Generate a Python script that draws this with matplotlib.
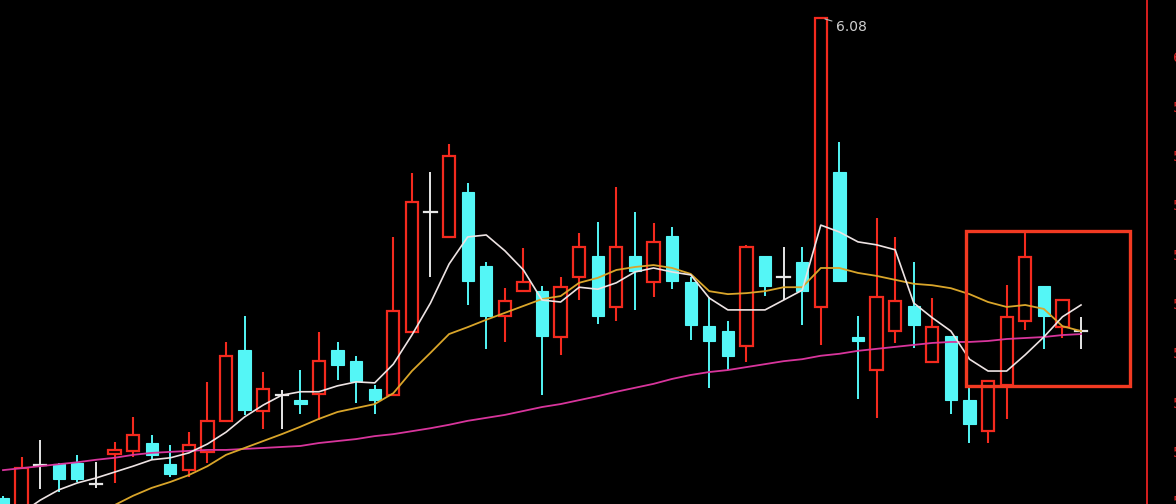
import matplotlib
matplotlib.use('Agg')
import matplotlib.pyplot as plt
from matplotlib.patches import Rectangle

# ---- data (prices) ----
opens = [5.105, 5.061, 5.172, 5.174, 5.176, 5.134, 5.195, 5.201, 5.217, 5.174,
         5.162, 5.199, 5.262, 5.406, 5.282, 5.314, 5.304, 5.316, 5.406, 5.383,
         5.327, 5.314, 5.442, 5.686, 5.635, 5.726, 5.576, 5.475, 5.525, 5.525,
         5.432, 5.554, 5.596, 5.493, 5.596, 5.544, 5.637, 5.544, 5.454, 5.444,
         5.414, 5.596, 5.554, 5.584, 5.493, 5.767, 5.432, 5.365, 5.444, 5.495,
         5.381, 5.434, 5.304, 5.241, 5.335, 5.465, 5.536, 5.452, 5.444]
highs = [5.110, 5.189, 5.223, 5.176, 5.193, 5.178, 5.219, 5.270, 5.233, 5.213,
         5.239, 5.341, 5.422, 5.475, 5.361, 5.325, 5.365, 5.442, 5.422, 5.394,
         5.335, 5.635, 5.765, 5.767, 5.824, 5.744, 5.584, 5.531, 5.613, 5.536,
         5.554, 5.643, 5.665, 5.736, 5.686, 5.663, 5.655, 5.554, 5.513, 5.465,
         5.619, 5.596, 5.615, 5.615, 6.080, 5.828, 5.475, 5.673, 5.635, 5.584,
         5.511, 5.434, 5.329, 5.345, 5.538, 5.645, 5.536, 5.507, 5.473]
lows = [5.041, 5.051, 5.124, 5.118, 5.138, 5.126, 5.136, 5.189, 5.183, 5.148,
        5.148, 5.176, 5.262, 5.274, 5.245, 5.245, 5.276, 5.264, 5.345, 5.298,
        5.276, 5.314, 5.442, 5.554, 5.635, 5.497, 5.408, 5.422, 5.525, 5.314,
        5.396, 5.507, 5.458, 5.465, 5.487, 5.513, 5.529, 5.426, 5.329, 5.365,
        5.381, 5.515, 5.507, 5.456, 5.416, 5.546, 5.306, 5.268, 5.420, 5.410,
        5.381, 5.276, 5.217, 5.217, 5.266, 5.446, 5.408, 5.430, 5.408]
closes = [5.051, 5.166, 5.172, 5.144, 5.144, 5.134, 5.203, 5.233, 5.193, 5.154,
          5.213, 5.262, 5.394, 5.284, 5.327, 5.314, 5.296, 5.383, 5.375, 5.343,
          5.304, 5.485, 5.706, 5.686, 5.799, 5.546, 5.475, 5.505, 5.544, 5.434,
          5.533, 5.615, 5.475, 5.615, 5.566, 5.625, 5.546, 5.456, 5.424, 5.394,
          5.615, 5.536, 5.554, 5.525, 6.080, 5.546, 5.424, 5.513, 5.505, 5.456,
          5.452, 5.304, 5.256, 5.343, 5.473, 5.594, 5.475, 5.507, 5.444]

ma5 = [5.051, 5.075, 5.101, 5.122, 5.136, 5.146, 5.158, 5.170, 5.183, 5.187,
       5.197, 5.215, 5.239, 5.270, 5.294, 5.314, 5.321, 5.321, 5.333, 5.341,
       5.339, 5.377, 5.436, 5.501, 5.580, 5.635, 5.639, 5.607, 5.568, 5.507,
       5.503, 5.533, 5.529, 5.542, 5.564, 5.572, 5.564, 5.558, 5.511, 5.487,
       5.487, 5.487, 5.507, 5.527, 5.659, 5.645, 5.625, 5.619, 5.609, 5.501,
       5.471, 5.444, 5.387, 5.363, 5.363, 5.396, 5.432, 5.473, 5.497]
ma10 = [4.984, 5.000, 5.018, 5.037, 5.055, 5.073, 5.091, 5.110, 5.126, 5.138,
        5.152, 5.170, 5.193, 5.207, 5.221, 5.235, 5.250, 5.266, 5.280, 5.288,
        5.296, 5.318, 5.363, 5.400, 5.438, 5.452, 5.467, 5.481, 5.495, 5.509,
        5.515, 5.542, 5.552, 5.568, 5.574, 5.578, 5.572, 5.560, 5.525, 5.519,
        5.521, 5.525, 5.533, 5.533, 5.572, 5.572, 5.562, 5.556, 5.548, 5.540,
        5.537, 5.531, 5.519, 5.503, 5.493, 5.497, 5.489, 5.454, 5.444]
ma60 = [5.162, 5.166, 5.170, 5.174, 5.178, 5.183, 5.187, 5.193, 5.197, 5.199,
        5.201, 5.203, 5.203, 5.205, 5.207, 5.209, 5.211, 5.217, 5.221, 5.225,
        5.231, 5.235, 5.241, 5.247, 5.254, 5.262, 5.268, 5.274, 5.282, 5.290,
        5.296, 5.304, 5.312, 5.321, 5.329, 5.337, 5.347, 5.355, 5.361, 5.365,
        5.371, 5.377, 5.383, 5.387, 5.394, 5.398, 5.404, 5.408, 5.412, 5.416,
        5.420, 5.422, 5.422, 5.424, 5.428, 5.430, 5.432, 5.436, 5.438]

ytick_values = [5.1, 5.2, 5.3, 5.4, 5.5, 5.6, 5.7, 5.8, 5.9, 6.0]
ytick_labels = ['5.10', '5.20', '5.30', '5.40', '5.50', '5.60', '5.70', '5.80', '5.90', '6.00']
peak_label = '6.08'

# ---- styling ----
UP = '#F42A1E'
DOWN = '#54F6F6'
DOJI = '#E6E6E6'
BG = '#000000'

fig = plt.figure(figsize=(11.76, 5.04), dpi=100, facecolor=BG)
ax = fig.add_axes([0.0, 0.0, 0.9751, 1.0])
ax.set_facecolor(BG)

w = 0.66
n = len(opens)
for i in range(n):
    o, h, l, c = opens[i], highs[i], lows[i], closes[i]
    top, bot = max(o, c), min(o, c)
    if c > o:
        col = UP
        if h > top:
            ax.plot([i, i], [top, h], color=col, lw=1.5, solid_capstyle='butt', zorder=3)
        if l < bot:
            ax.plot([i, i], [l, bot], color=col, lw=1.5, solid_capstyle='butt', zorder=3)
        ax.add_patch(Rectangle((i - w / 2, bot), w, top - bot, facecolor=BG,
                               edgecolor=col, lw=1.6, zorder=3))
    elif c < o:
        col = DOWN
        ax.plot([i, i], [l, h], color=col, lw=1.4, solid_capstyle='butt', zorder=3)
        ax.add_patch(Rectangle((i - w / 2, bot), w, top - bot, facecolor=col,
                               edgecolor=col, lw=0.8, zorder=3))
    else:
        col = DOJI
        ax.plot([i, i], [l, h], color=col, lw=1.4, solid_capstyle='butt', zorder=3)
        ax.plot([i - w / 2, i + w / 2], [o, o], color=col, lw=1.6, zorder=3)

xs = list(range(n))
ax.plot(xs, ma60, color='#D8359C', lw=1.3, zorder=4)
ax.plot(xs, ma10, color='#D9A52A', lw=1.3, zorder=4)
ax.plot(xs, ma5, color='#EDE3E3', lw=1.2, zorder=4)

# peak annotation
ax.annotate(peak_label, xy=(44.15, 6.078), xytext=(9, -6), textcoords='offset points',
            color='#CFCFCF', fontsize=10, family='Liberation Sans Narrow', va='center', ha='left',
            arrowprops=dict(arrowstyle='-', color='#BDBDBD', lw=0.8, shrinkA=1, shrinkB=1))

# highlight box
ax.add_patch(Rectangle((51.81, 5.333), 60.64 - 51.81, 5.647 - 5.333, fill=False,
                       edgecolor='#F23A22', lw=2.4, zorder=5))

ax.set_xlim(-0.161, 61.535)
ax.set_ylim(5.0933, 6.1156)

for s in ['left', 'top', 'bottom']:
    ax.spines[s].set_visible(False)
ax.spines['right'].set_color('#D81E1E')
ax.spines['right'].set_linewidth(1.4)
ax.set_xticks([])
ax.yaxis.tick_right()
ax.set_yticks(ytick_values)
ax.set_yticklabels(ytick_labels)
ax.tick_params(axis='y', length=0, pad=19, labelcolor='#D82020', labelsize=10)

fig.savefig('out.png', dpi=100, facecolor=BG)
